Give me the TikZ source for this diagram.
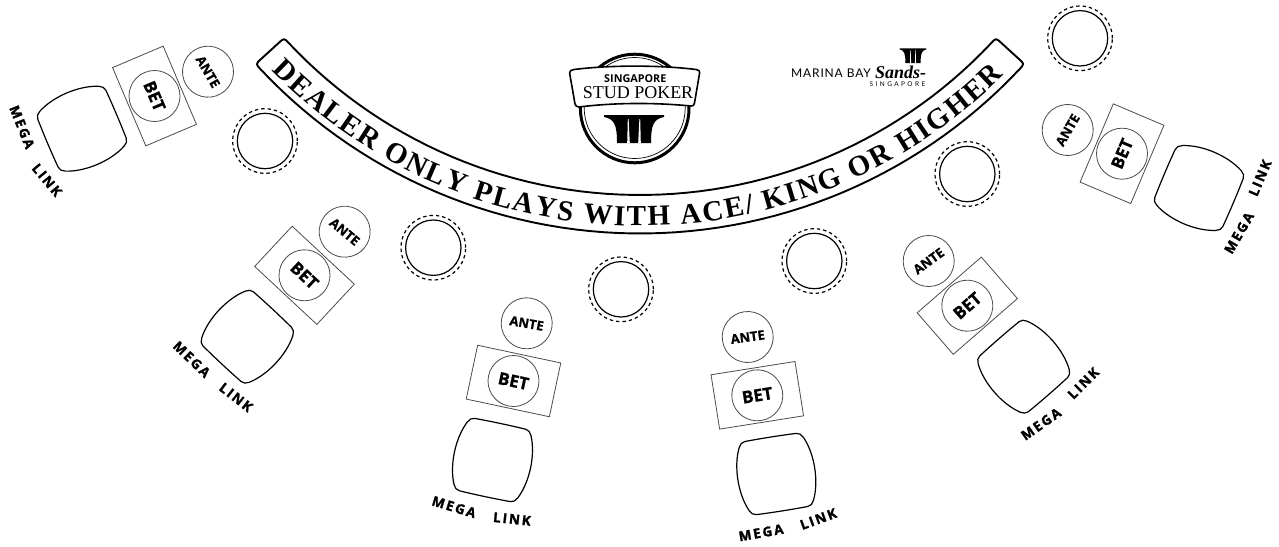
\documentclass[tikz,border=0pt]{standalone}
\usepackage{fontspec}
\usetikzlibrary{decorations.text}
\setmainfont{Liberation Serif}
\newfontfamily\seatfont[BoldFeatures={FakeBold=0.8}]{Open Sans}
\newfontfamily\logofont{Open Sans}
\newfontfamily\megafont[LetterSpace=14,BoldFeatures={FakeBold=1.6,LetterSpace=14}]{Open Sans}
\newfontfamily\mbsfont[LetterSpace=7]{Lato}
\newfontfamily\mbssmall[LetterSpace=37]{Lato}
\newcommand{\fsz}[1]{\fontsize{#1}{#1}\selectfont}
\newcommand{\barrelpath}{(-26,-37) .. controls (-10,-37.5) and (10,-37.5) .. (26,-37)
  .. controls (29,-37) and (31,-35) .. (32.5,-32)
  .. controls (41,-14) and (41,14) .. (32.5,32)
  .. controls (31,35) and (29,37) .. (26,37)
  .. controls (10,37.5) and (-10,37.5) .. (-26,37)
  .. controls (-29,37) and (-31,35) .. (-32.5,32)
  .. controls (-41,14) and (-41,-14) .. (-32.5,-32)
  .. controls (-31,-35) and (-29,-37) .. (-26,-37) -- cycle}
\newcommand{\pillarpath}{
  \fill[black] (-30,0) -- (30,0) -- (30,2) .. controls (20,4) and (17,9) .. (17,28)
     -- (-17,28) .. controls (-17,9) and (-20,4) .. (-30,2) -- cycle;
  \fill[white] (-6.2,4) -- (-5.4,4) -- (-4.2,28) -- (-6.8,28) -- cycle;
  \fill[white] (6.2,4) -- (5.4,4) -- (4.2,28) -- (6.8,28) -- cycle;
}
\tikzset{
  betbox/.style={draw=black!70,line width=0.8pt,minimum width=85pt,minimum height=55pt,inner sep=0pt},
  betcirc/.style={circle,draw=black!70,line width=0.8pt,minimum size=51pt,inner sep=0pt,
     font=\seatfont\bfseries\fsz{17}},
  antecirc/.style={circle,draw=black!70,line width=0.8pt,minimum size=51pt,inner sep=0pt,
     font=\seatfont\bfseries\fsz{13}},
  barrel/.style={draw=black,line width=1.2pt},
  megatext/.style={font=\megafont\bfseries\fsz{13.5},inner sep=0pt},
  chipin/.style={circle,draw=black,line width=1.2pt,minimum size=55.4pt,inner sep=0pt},
  chipout/.style={circle,draw=black,line width=1.2pt,dash pattern=on 3.4pt off 3pt,minimum size=64.6pt,inner sep=0pt},
  bannerline/.style={draw=black,line width=1.9pt},
}
\begin{document}
\begin{tikzpicture}[x=1pt,y=-1pt]
\fill[white] (0,0) rectangle (1279,546);
\useasboundingbox (0,0) rectangle (1279,546);

% dealer banner
\draw[bannerline,line join=round]
  plot[domain=136.8:43.2,samples=60] ({640+482*cos(\x)},{-287+482*sin(\x)})
  .. controls ({640+482*cos(42.4)},{-287+482*sin(42.4)}) .. ({640+489*cos(42.4)},{-287+489*sin(42.4)})
  -- ({640+513.5*cos(42.4)},{-287+513.5*sin(42.4)})
  .. controls ({640+520.5*cos(42.4)},{-287+520.5*sin(42.4)}) .. ({640+520.5*cos(43.2)},{-287+520.5*sin(43.2)})
  -- plot[domain=43.2:136.8,samples=60] ({640+520.5*cos(\x)},{-287+520.5*sin(\x)})
  .. controls ({640+520.5*cos(137.6)},{-287+520.5*sin(137.6)}) .. ({640+513.5*cos(137.6)},{-287+513.5*sin(137.6)})
  -- ({640+489*cos(137.6)},{-287+489*sin(137.6)})
  .. controls ({640+482*cos(137.6)},{-287+482*sin(137.6)}) .. ({640+482*cos(136.8)},{-287+482*sin(136.8)})
  -- cycle;
\path[decorate,decoration={text along path,
    text={|\bfseries\fsz{29}|DEALER ONLY PLAYS WITH ACE/ KING OR HIGHER},
    text align=fit to path}]
  plot[domain=135.9:44.8,samples=80] ({640+513*cos(\x)},{-287+513*sin(\x)});

% chip circles
\foreach \n/\cx/\cy in {1/265/141,2/433.3/247.7,3/621/289.3,4/814.3/261,5/967.3/174,6/1080/38.3}{
  \node[chipin] (chipi\n) at (\cx,\cy) {};
  \node[chipout] (chipo\n) at (\cx,\cy) {};
}

% seats
\foreach \i/\rx/\ry/\rot/\ax/\ay/\arot/\bx/\by/\mx/\my/\mrot/\lx/\ly/\lrot in {
  1/154.5/96/-67/208/71.7/-60/82/128.7/22/127/-68/47/180/-50,
  2/304.5/275.3/-43/344.7/231.7/-40/247.3/336.7/191.7/359.3/-44/236/397.3/-38,
  3/513.5/381/-12/526.7/323.3/-10/492.5/460/454/507/-17/512/519/-6,
  4/757.3/395.3/9/747.7/337/8/776.3/474/761/532.7/10/818.3/519/20,
  5/967.3/305.7/41/928.7/261/36/1023.7/366.7/1041/424/35/1083.3/383.3/45,
  6/1122/153.7/67/1067.7/130/60/1199/188/1239/233/60/1260/178/67}{
  \node[betbox,rotate=\rot] (box\i) at (\rx,\ry) {};
  \node[betcirc,rotate=\rot] (bet\i) at (\rx,\ry) {BET};
  \node[antecirc,rotate=\arot] (ante\i) at (\ax,\ay) {ANTE};
  \begin{scope}[shift={(\bx,\by)},rotate=\rot]
    \draw[barrel] \barrelpath;
  \end{scope}
  \node[megatext,rotate=\mrot] (mega\i) at (\mx,\my) {MEGA};
  \node[megatext,rotate=\lrot] (link\i) at (\lx,\ly) {LINK};
}

% Stud poker badge
\draw[black,line width=3pt] (634.7,108.5) circle[radius=54.3];
\draw[black,line width=0.7pt] (634.7,108) circle[radius=50.5];
\draw[bannerline,fill=white,line width=1.6pt]
  (574,69.5) .. controls (610,65) and (660,65) .. (696,69.5)
  .. controls (699,70) and (700,71) .. (699.6,73)
  -- (694.5,103) .. controls (694,105.5) and (693,106) .. (691,106)
  .. controls (655,102.5) and (615,102.5) .. (579,107)
  .. controls (577,107) and (575.5,106) .. (575,104)
  -- (569.6,73) .. controls (569.3,71) and (571,70) .. (574,69.5) -- cycle;
\node[inner sep=0pt,font=\logofont\bfseries\fsz{10.8}] (sg) at (635.3,78.7) {SINGAPORE};
\node[inner sep=0pt,font=\fsz{18}] (stud) at (638,92.7) {STUD POKER};
\begin{scope}[shift={(634,115)}]
  \pillarpath
\end{scope}

% Marina Bay Sands
\begin{scope}[shift={(913,48.3)},xscale=.445,yscale=.53]
  \pillarpath
\end{scope}
\node[inner sep=0pt,anchor=west,font=\mbsfont\fsz{12}] (mb) at (791,73) {MARINA BAY};
\node[inner sep=0pt,anchor=west,font=\bfseries\itshape\fsz{18}] (sands) at (875,72) {Sands-};
\node[inner sep=0pt,anchor=east,font=\mbssmall\fsz{6.5}] (sgs) at (925.5,84) {SINGAPORE};
\end{tikzpicture}
\end{document}
